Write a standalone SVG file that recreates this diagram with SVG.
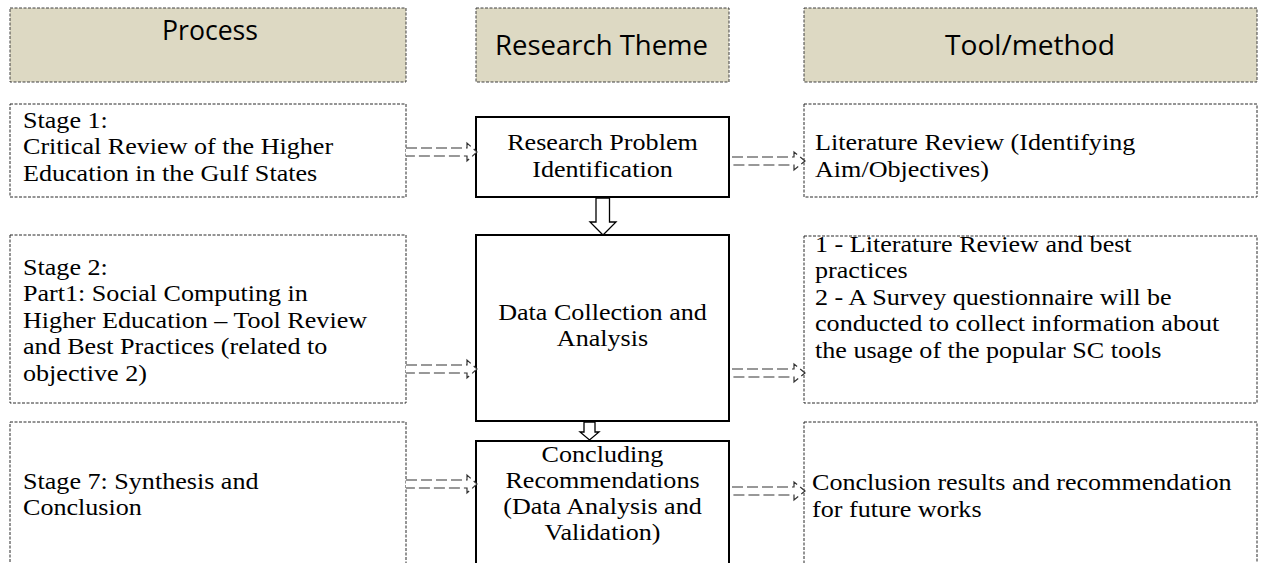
<svg xmlns="http://www.w3.org/2000/svg" width="1261" height="563" viewBox="0 0 1261 563">
  <style>
    .hdr { fill: #ddd9c3; stroke: #404040; stroke-width: 1; stroke-dasharray: 3 1.5; }
    .dbox { fill: #fff; stroke: #2a2a2a; stroke-width: 1; stroke-dasharray: 3 1.5; }
    .sbox { fill: #fff; stroke: #000; stroke-width: 2; }
    .htxt { font-family: "Open Sans", "Liberation Sans", sans-serif; font-size: 28px; fill: #000; text-anchor: middle; }
    .btxt { font-family: "Liberation Serif", "Times New Roman", serif; font-size: 22.5px; fill: #000; }
    .mid { text-anchor: middle; }
    .flow { fill: #fff; stroke: #333; stroke-width: 1.2; stroke-dasharray: 11 4; }
    .down { fill: #fff; stroke: #000; stroke-width: 1.3; }
  </style>

  <!-- column headers -->
  <g id="hdr-process">
    <rect class="hdr" x="10" y="8" width="396" height="74"/>
    <text class="htxt" x="210" y="40" textLength="96" lengthAdjust="spacingAndGlyphs">Process</text>
  </g>
  <g id="hdr-theme">
    <rect class="hdr" x="476" y="8" width="253" height="74"/>
    <text class="htxt" x="601.5" y="55" textLength="213" lengthAdjust="spacingAndGlyphs">Research Theme</text>
  </g>
  <g id="hdr-tool">
    <rect class="hdr" x="804" y="8" width="453" height="74"/>
    <text class="htxt" x="1030" y="55" textLength="170" lengthAdjust="spacingAndGlyphs">Tool/method</text>
  </g>

  <!-- row 1 -->
  <g id="stage1">
    <rect class="dbox" x="10" y="104" width="396" height="93"/>
    <text class="btxt" transform="matrix(1.16 0 0 1 23 128)">Stage 1:</text>
    <text class="btxt" transform="matrix(1.16 0 0 1 23 154)">Critical Review of the Higher</text>
    <text class="btxt" transform="matrix(1.16 0 0 1 23 181)">Education in the Gulf States</text>
  </g>
  <g id="problem-id">
    <rect class="sbox" x="476" y="117" width="253" height="80"/>
    <text class="btxt mid" transform="matrix(1.16 0 0 1 602.5 150)">Research Problem</text>
    <text class="btxt mid" transform="matrix(1.16 0 0 1 602.5 177)">Identification</text>
  </g>
  <g id="lit-review">
    <rect class="dbox" x="804" y="104" width="453" height="93"/>
    <text class="btxt" transform="matrix(1.16 0 0 1 815 150)">Literature Review (Identifying</text>
    <text class="btxt" transform="matrix(1.16 0 0 1 815 177)">Aim/Objectives)</text>
  </g>

  <!-- row 2 -->
  <g id="stage2">
    <rect class="dbox" x="10" y="235" width="396" height="168"/>
    <text class="btxt" transform="matrix(1.16 0 0 1 23 275)">Stage 2:</text>
    <text class="btxt" transform="matrix(1.16 0 0 1 23 301)">Part1: Social Computing in</text>
    <text class="btxt" transform="matrix(1.16 0 0 1 23 328)">Higher Education – Tool Review</text>
    <text class="btxt" transform="matrix(1.16 0 0 1 23 354)">and Best Practices (related to</text>
    <text class="btxt" transform="matrix(1.16 0 0 1 23 381)">objective 2)</text>
  </g>
  <g id="data-collection">
    <rect class="sbox" x="476" y="235" width="253" height="186"/>
    <text class="btxt mid" transform="matrix(1.16 0 0 1 602.5 320)">Data Collection and</text>
    <text class="btxt mid" transform="matrix(1.16 0 0 1 602.5 346)">Analysis</text>
  </g>
  <g id="survey">
    <rect class="dbox" x="804" y="236" width="453" height="167"/>
    <text class="btxt" transform="matrix(1.16 0 0 1 815 252)">1 - Literature Review and best</text>
    <text class="btxt" transform="matrix(1.16 0 0 1 815 278)">practices</text>
    <text class="btxt" transform="matrix(1.16 0 0 1 815 305)">2 - A Survey questionnaire will be</text>
    <text class="btxt" transform="matrix(1.16 0 0 1 815 331)">conducted to collect information about</text>
    <text class="btxt" transform="matrix(1.16 0 0 1 815 358)">the usage of the popular SC tools</text>
  </g>

  <!-- row 3 (runs past the lower edge) -->
  <g id="stage7">
    <rect class="dbox" x="10" y="422" width="396" height="160"/>
    <text class="btxt" transform="matrix(1.16 0 0 1 23 489)">Stage 7: Synthesis and</text>
    <text class="btxt" transform="matrix(1.16 0 0 1 23 515)">Conclusion</text>
  </g>
  <g id="concluding">
    <rect class="sbox" x="476" y="441" width="253" height="140"/>
    <text class="btxt mid" transform="matrix(1.16 0 0 1 602.5 462)">Concluding</text>
    <text class="btxt mid" transform="matrix(1.16 0 0 1 602.5 488)">Recommendations</text>
    <text class="btxt mid" transform="matrix(1.16 0 0 1 602.5 514)">(Data Analysis and</text>
    <text class="btxt mid" transform="matrix(1.16 0 0 1 602.5 540)">Validation)</text>
  </g>
  <g id="conclusion">
    <rect class="dbox" x="804" y="422" width="453" height="160"/>
    <text class="btxt" transform="matrix(1.16 0 0 1 812 490)">Conclusion results and recommendation</text>
    <text class="btxt" transform="matrix(1.16 0 0 1 812 517)">for future works</text>
  </g>

  <!-- connectors -->
  <g id="connectors">
    <!-- process to theme -->
    <path class="flow" d="M406 148 H467 V143 L477 152 L467 161 V156 H406"/>
    <path class="flow" d="M406 365 H467 V360 L477 369 L467 378 V373 H406"/>
    <path class="flow" d="M406 480 H467 V475 L477 484 L467 493 V488 H406"/>
    <!-- theme to tool -->
    <path class="flow" d="M732 157 H794 V152 L805 161 L794 170 V165 H732"/>
    <path class="flow" d="M732 369 H794 V364 L805 373 L794 382 V377 H732"/>
    <path class="flow" d="M732 487 H794 V482 L805 491 L794 500 V495 H732"/>
    <!-- theme sequence -->
    <path class="down" d="M596 198 V222 H590 L603 235 L616 222 H609.5 V198 Z"/>
    <path class="down" d="M584 422 V432 H580 L589.5 440 L599 432 H595 V422 Z"/>
  </g>
</svg>
